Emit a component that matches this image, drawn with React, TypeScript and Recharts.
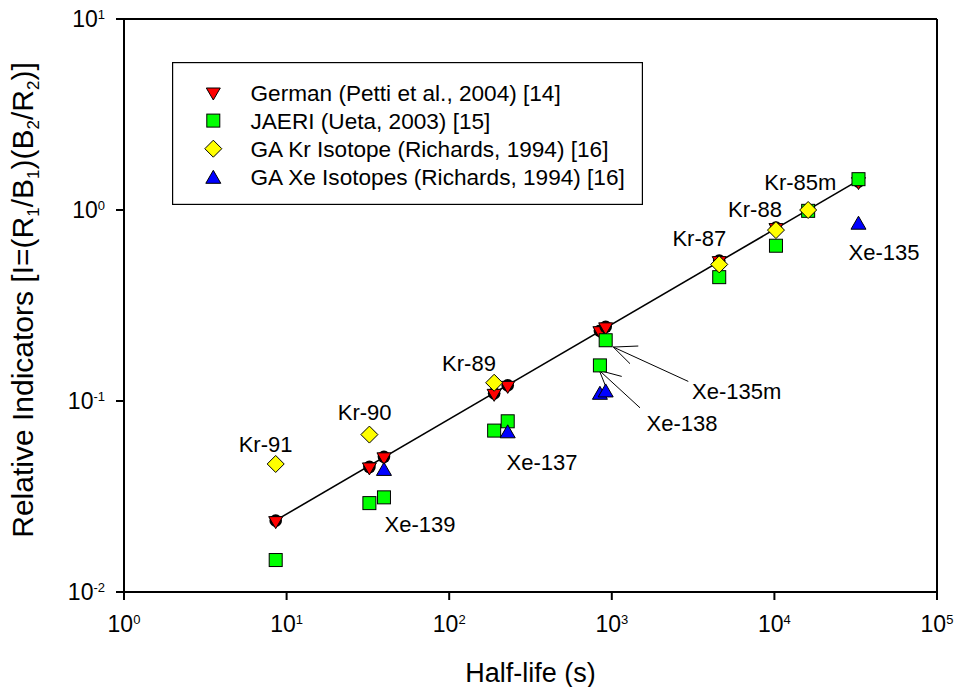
import { ScatterChart, Scatter, XAxis, YAxis, ReferenceLine, Legend } from "recharts";

const FONT = "'Liberation Sans', Arial, Helvetica, sans-serif";

// isotopes and their half-lives (s)
const isotopes = ["Kr-91", "Kr-90", "Xe-139", "Kr-89", "Xe-137", "Xe-138", "Xe-135m", "Kr-87", "Kr-88", "Kr-85m", "Xe-135"];
const halfLife = [8.57, 32.3, 39.7, 189, 229, 845, 917, 4578, 10224, 16128, 32900];

// relative indicators per data set (null = not measured)
const german = [0.0235, 0.0449, 0.0507, 0.109, 0.12, 0.232, 0.243, 0.54, 0.804, null, 1.4];
const jaeri = [0.0147, 0.0292, 0.0313, 0.07, 0.0783, 0.1536, 0.208, 0.445, 0.65, 0.99, 1.45];
const gaKr = [0.0468, 0.0667, null, 0.1246, null, null, null, 0.519, 0.785, 1.0, null];
const gaXe = [null, null, 0.0441, null, 0.0694, 0.1104, 0.1136, null, null, null, 0.858];

// fitted line end points
const fitX = [8.57, 32900];
const fitY = [0.0237, 1.43];

// label anchors (data coordinates)
const labelX = [7.42, 30.2, 66.1, 132.4, 372, 2703, 5863, 3453, 7600, 14430, 47200];
const labelY = [0.0593, 0.0878, 0.02275, 0.159, 0.0477, 0.0768, 0.1128, 0.7145, 1.0146, 1.408, 0.604];

// arrows: [tip, tail, barb1, barb2]
const arrow135m = [[1021, 0.1916], [2954, 0.1266], [1455, 0.194], [1294, 0.1568]];
const arrow138 = [[838, 0.1445], [1491, 0.0921], [1151, 0.1345], [944, 0.1122]];

const xTicks = [1, 10, 100, 1000, 10000, 100000];
const yTicks = [0.01, 0.1, 1, 10];

const legendNames = [
  "German (Petti et al., 2004) [14]",
  "JAERI (Ueta, 2003) [15]",
  "GA Kr Isotope (Richards, 1994) [16]",
  "GA Xe Isotopes (Richards, 1994) [16]",
];

const toPoints = (vals: (number | null)[]) =>
  halfLife.map((x, i) => ({ x, y: vals[i] })).filter((d) => d.y != null);

const germanData = toPoints(german);
const jaeriData = toPoints(jaeri);
const gaKrData = toPoints(gaKr);
const gaXeData = toPoints(gaXe);
const fitData = fitX.map((x, i) => ({ x, y: fitY[i] }));
const labelData = isotopes.map((name, i) => ({ x: labelX[i], y: labelY[i], name }));

const GermanMark = ({ cx, cy, noCircle }: any) => (
  <g>
    {!noCircle && <circle cx={cx} cy={cy - 0.5} r={6.3} fill="#000" />}
    <path d={`M${cx - 7},${cy - 4.5}L${cx + 7},${cy - 4.5}L${cx},${cy + 7.5}Z`} fill="#ff0000" stroke="#000" strokeWidth={1} />
  </g>
);
const SquareMark = ({ cx, cy }: any) => (
  <rect x={cx - 6.5} y={cy - 6.5} width={13} height={13} fill="#00ff00" stroke="#000" strokeWidth={1} />
);
const DiamondMark = ({ cx, cy }: any) => (
  <path d={`M${cx},${cy - 8.5}L${cx + 8.5},${cy}L${cx},${cy + 8.5}L${cx - 8.5},${cy}Z`} fill="#ffff00" stroke="#000" strokeWidth={1} />
);
const TriangleMark = ({ cx, cy }: any) => (
  <path d={`M${cx - 7.5},${cy + 6.5}L${cx + 7.5},${cy + 6.5}L${cx},${cy - 6.5}Z`} fill="#0000ff" stroke="#000" strokeWidth={1} />
);
const NoMark = () => <g />;

const LabelMark = (p: any) => (
  <text x={p.cx} y={p.cy + 8} textAnchor="middle" fontFamily={FONT} fontSize={22} fill="#000">
    {p.payload?.name ?? p.name}
  </text>
);

const XTick = ({ x, payload }: any) => (
  <text x={x} y={631.5} textAnchor="middle" fontFamily={FONT} fontSize={23} fill="#000">
    10<tspan dy={-8} fontSize={13}>{Math.round(Math.log10(payload.value))}</tspan>
  </text>
);
const YTick = ({ y, payload }: any) => (
  <text x={105} y={y + 8.3} textAnchor="end" fontFamily={FONT} fontSize={23} fill="#000">
    10<tspan dy={-8} fontSize={13}>{Math.round(Math.log10(payload.value))}</tspan>
  </text>
);

const XTitle = () => (
  <text x={530.5} y={681.5} textAnchor="middle" fontFamily={FONT} fontSize={27} fill="#000">
    Half-life (s)
  </text>
);
const YTitle = () => (
  <text x={33} y={300} transform="rotate(-90 33 300)" textAnchor="middle" fontFamily={FONT} fontSize={30} fill="#000">
    Relative Indicators [I=(R<tspan dy={6} fontSize={17}>1</tspan>
    <tspan dy={-6}>/B</tspan><tspan dy={6} fontSize={17}>1</tspan>
    <tspan dy={-6}>)(B</tspan><tspan dy={6} fontSize={17}>2</tspan>
    <tspan dy={-6}>/R</tspan><tspan dy={6} fontSize={17}>2</tspan>
    <tspan dy={-6}>)]</tspan>
  </text>
);

const legendMarks = [
  (cx: number, cy: number) => <GermanMark cx={cx} cy={cy} noCircle />,
  (cx: number, cy: number) => <SquareMark cx={cx} cy={cy} />,
  (cx: number, cy: number) => <DiamondMark cx={cx} cy={cy} />,
  (cx: number, cy: number) => <TriangleMark cx={cx} cy={cy} />,
];

const LegendBox = () => (
  <svg width={471} height={143} style={{ display: "block" }}>
    <rect x={0.6} y={0.6} width={469.8} height={141.8} fill="#fff" stroke="#000" strokeWidth={1.2} />
    {legendNames.map((name, i) => {
      const cy = 30.5 + i * 28.1;
      return (
        <g key={name}>
          {legendMarks[i](41.3, cy)}
          <text x={78.5} y={cy + 8} fontFamily={FONT} fontSize={22.6} fill="#000">{name}</text>
        </g>
      );
    })}
  </svg>
);

const seg = (a: number[], b: number[]) => [{ x: a[0], y: a[1] }, { x: b[0], y: b[1] }] as any;

export default function App() {
  const arrows = [arrow135m, arrow138];
  return (
    <div style={{ position: "absolute", left: 0, top: 0 }}>
      <ScatterChart width={956} height={687} margin={{ top: 19, right: 19, bottom: 15, left: 10 }}>
        <XAxis
          dataKey="x" type="number" scale="log" domain={[1, 100000]} ticks={xTicks} allowDataOverflow
          axisLine={{ stroke: "#000", strokeWidth: 2 }} tickLine={{ stroke: "#000", strokeWidth: 2 }}
          tickSize={8} tick={<XTick />} height={80} interval={0} label={<XTitle />}
        />
        <YAxis
          dataKey="y" type="number" scale="log" domain={[0.01, 10]} ticks={yTicks} allowDataOverflow
          axisLine={{ stroke: "#000", strokeWidth: 2 }} tickLine={{ stroke: "#000", strokeWidth: 2 }}
          tickSize={8} tick={<YTick />} width={114} interval={0} label={<YTitle />}
        />
        <ReferenceLine y={10} stroke="#000" strokeWidth={2} />
        <ReferenceLine x={100000} stroke="#000" strokeWidth={2} />
        {arrows.map((a, k) => [
          <ReferenceLine key={`s${k}`} segment={seg(a[0], a[1])} stroke="#000" strokeWidth={1} />,
          <ReferenceLine key={`b${k}`} segment={seg(a[0], a[2])} stroke="#000" strokeWidth={1} />,
          <ReferenceLine key={`c${k}`} segment={seg(a[0], a[3])} stroke="#000" strokeWidth={1} />,
        ])}
        <Scatter data={fitData} line={{ stroke: "#000", strokeWidth: 1.6 }} shape={<NoMark />} isAnimationActive={false} />
        <Scatter data={germanData} shape={<GermanMark />} isAnimationActive={false} />
        <Scatter data={jaeriData} shape={<SquareMark />} isAnimationActive={false} />
        <Scatter data={gaKrData} shape={<DiamondMark />} isAnimationActive={false} />
        <Scatter data={gaXeData} shape={<TriangleMark />} isAnimationActive={false} />
        <Scatter data={labelData} shape={<LabelMark />} isAnimationActive={false} />
        <Legend
          layout="vertical" align="center" verticalAlign="middle" content={() => <LegendBox />}
          wrapperStyle={{ left: 172, top: 62, width: 471, height: 143 }}
        />
      </ScatterChart>
    </div>
  );
}
